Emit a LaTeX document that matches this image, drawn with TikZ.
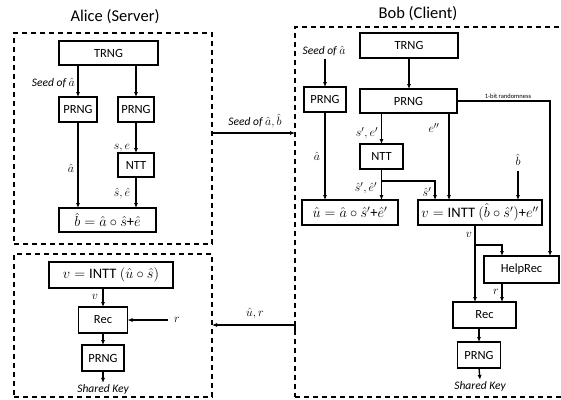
\documentclass[tikz,border=0pt]{standalone}
\usepackage{fontspec}
\setmainfont{Carlito}
\usepackage{amsmath}
\usetikzlibrary{arrows.meta}
\begin{document}
\begin{tikzpicture}[x=1pt,y=-1pt,
  box/.style={draw, line width=1.6pt, inner sep=0pt, outer sep=0pt,
    font=\fontsize{12.5}{14}\selectfont},
  eqbox/.style={box, font=\fontsize{14.5}{16}\selectfont},
  frame/.style={draw, line width=1.3pt, dash pattern=on 5pt off 4pt,
    inner sep=0pt, outer sep=0pt},
  arr/.style={-{Latex[length=5pt,width=4.2pt]}, line width=1.3pt},
  lbl/.style={font=\fontsize{11.5}{13}\selectfont\itshape, inner sep=1pt},
  mlbl/.style={font=\fontsize{12.5}{14}\selectfont, inner sep=1pt},
  ttl/.style={font=\fontsize{16.5}{18}\selectfont, inner sep=0pt}]
\useasboundingbox (0,0) rectangle (561,399);
\clip (0,0) rectangle (561,399);

% ---------- party frames ----------
\node[ttl] (aliceTitle) at (115,17) {Alice (Server)};
\node[ttl] (bobTitle) at (418,14) {Bob (Client)};
\node[frame, minimum width=198pt, minimum height=211pt] (aliceTop) at (113,138.5) {};
\node[frame, minimum width=198pt, minimum height=143pt] (aliceBot) at (113,325.5) {};
\node[frame, minimum width=280pt, minimum height=370pt] (bob) at (435,212) {};

% ---------- Alice: key generation ----------
\node[box, minimum width=99pt, minimum height=24pt] (aTRNG) at (108.5,53) {TRNG};
\node[box, minimum width=38pt, minimum height=25pt] (aPRNG1) at (78,109.5) {PRNG};
\node[box, minimum width=36pt, minimum height=25pt] (aPRNG2) at (136,109.5) {PRNG};
\node[box, minimum width=36pt, minimum height=24pt] (aNTT) at (136,165) {NTT};
\node[eqbox, minimum width=97pt, minimum height=24pt] (aB) at (107.5,220)
  {$\hat{b}=\hat{a}\circ\hat{s}$+$\hat{e}$};

\draw[arr] (aTRNG.south -| aPRNG1.north) -- (aPRNG1.north);
\draw[arr] (aTRNG.south -| aPRNG2.north) -- (aPRNG2.north);
\draw[arr] (aPRNG2.south) -- (aNTT.north);
\draw[arr] (aNTT.south) -- (aNTT.south |- aB.north);
\draw[arr] (aPRNG1.south) -- (aPRNG1.south |- aB.north);

\node[lbl, anchor=east] (aSeed) at (76,83) {Seed of $\hat{a}$};
\node[mlbl] (aAhat) at (71,168) {$\hat{a}$};
\node[mlbl] (aSE) at (122,148) {$s,e$};
\node[mlbl] (aSEhat) at (122,193) {$\hat{s},\hat{e}$};

% ---------- Alice: reconciliation ----------
\node[eqbox, minimum width=124pt, minimum height=26pt] (aV) at (111,275)
  {$v=\text{INTT}\ (\hat{u}\circ\hat{s})$};
\node[box, minimum width=49pt, minimum height=26pt] (aRec) at (103,320) {Rec};
\node[box, minimum width=42pt, minimum height=26pt] (aPRNG3) at (103,358) {PRNG};
\node[lbl] (aKey) at (103,389) {Shared Key};
\node[mlbl] (aVl) at (95,297) {$v$};
\node[mlbl] (aR) at (177,320) {$r$};
\coordinate (aRin) at (168,320);

\draw[arr] (aV.south -| aRec.north) -- (aRec.north);
\draw[arr] (aRin) -- (aRec.east);
\draw[arr] (aRec.south) -- (aPRNG3.north);
\draw[arr] (aPRNG3.south) -- (aKey.north);

% ---------- messages ----------
\draw[arr] (aliceTop.east |- 0,133) -- (bob.west |- 0,133);
\node[lbl] (msg1) at (255,121) {Seed of $\hat{a},\hat{b}$};
\coordinate (m2start) at (295,331);
\draw[arr] (m2start) -- (bob.west |- 0,325) -- (aliceBot.east |- 0,325);
\node[mlbl] (msg2) at (255,313) {$\hat{u},r$};

% ---------- Bob ----------
\node[box, minimum width=98pt, minimum height=25pt] (bTRNG) at (409,45.5) {TRNG};
\node[box, minimum width=42pt, minimum height=25pt] (bPRNG1) at (325,99.5) {PRNG};
\node[box, minimum width=97pt, minimum height=24pt] (bPRNG2) at (408.5,101) {PRNG};
\node[box, minimum width=43pt, minimum height=25pt] (bNTT) at (381.5,156.5) {NTT};
\node[eqbox, minimum width=96pt, minimum height=25pt] (bU) at (350,212.5)
  {$\hat{u}=\hat{a}\circ\hat{s}'$+$\hat{e}'$};
\node[eqbox, minimum width=124pt, minimum height=25pt] (bV) at (480,212.5)
  {$v=\text{INTT}\ (\hat{b}\circ\hat{s}')$+$e''$};
\node[box, minimum width=75pt, minimum height=27pt] (bHelp) at (521.5,269.5) {HelpRec};
\node[box, minimum width=63pt, minimum height=26pt] (bRec) at (484.5,315) {Rec};
\node[box, minimum width=43pt, minimum height=26pt] (bPRNG3) at (479,355) {PRNG};
\node[lbl] (bKey) at (480,386) {Shared Key};

\node[lbl] (bSeed) at (324,51) {Seed of $\hat{a}$};
\node[mlbl] (bAhat) at (317,156) {$\hat{a}$};
\node[mlbl] (bSE) at (367,133) {$s',e'$};
\node[mlbl] (bE2) at (434,128) {$e''$};
\node[mlbl] (bSEhat) at (366,188) {$\hat{s}',\hat{e}'$};
\node[mlbl] (bShat) at (427,192) {$\hat{s}'$};
\node[mlbl] (bBhat) at (518,160) {$\hat{b}$};
\node[font=\fontsize{6.5}{7}\selectfont, inner sep=1pt] (bRand) at (508,96) {1-bit randomness};
\node[mlbl] (bVl) at (469,235) {$v$};
\node[mlbl] (bRl) at (496,292) {$r$};

\draw[arr] (bSeed.south -| bPRNG1.north) ++(0,2) -- (bPRNG1.north);
\draw[arr] (bPRNG1.south) -- (bPRNG1.south |- bU.north);
\draw[arr] (bTRNG.south) -- (bTRNG.south |- bPRNG2.north);
\draw[arr] (bPRNG2.south -| bNTT.north) -- (bNTT.north);
\draw[arr] (bPRNG2.south -| 449,0) -- (bV.north -| 449,0);
\draw[arr] (bNTT.south) -- (bNTT.south |- bU.north);
\draw[arr] (bNTT.south |- 0,181) -| (bV.north -| 435,0);
\draw[arr] (bBhat.south) ++(0,4) -- (bBhat.south |- bV.north);
\draw[arr] (bPRNG2.east) -| (bHelp.north -| 550,0);
\draw[arr] (bV.south -| 475,0) -- (bRec.north -| 475,0);
\draw[arr] (bV.south -| 475,0) ++(0,20) -| (bHelp.north -| 502,0);
\draw[arr] (bHelp.south -| 502,0) -- (bRec.north -| 502,0);
\draw[arr] (bRec.south -| bPRNG3.north) -- (bPRNG3.north);
\draw[arr] (bPRNG3.south) -- (bKey.north);
\end{tikzpicture}
\end{document}
